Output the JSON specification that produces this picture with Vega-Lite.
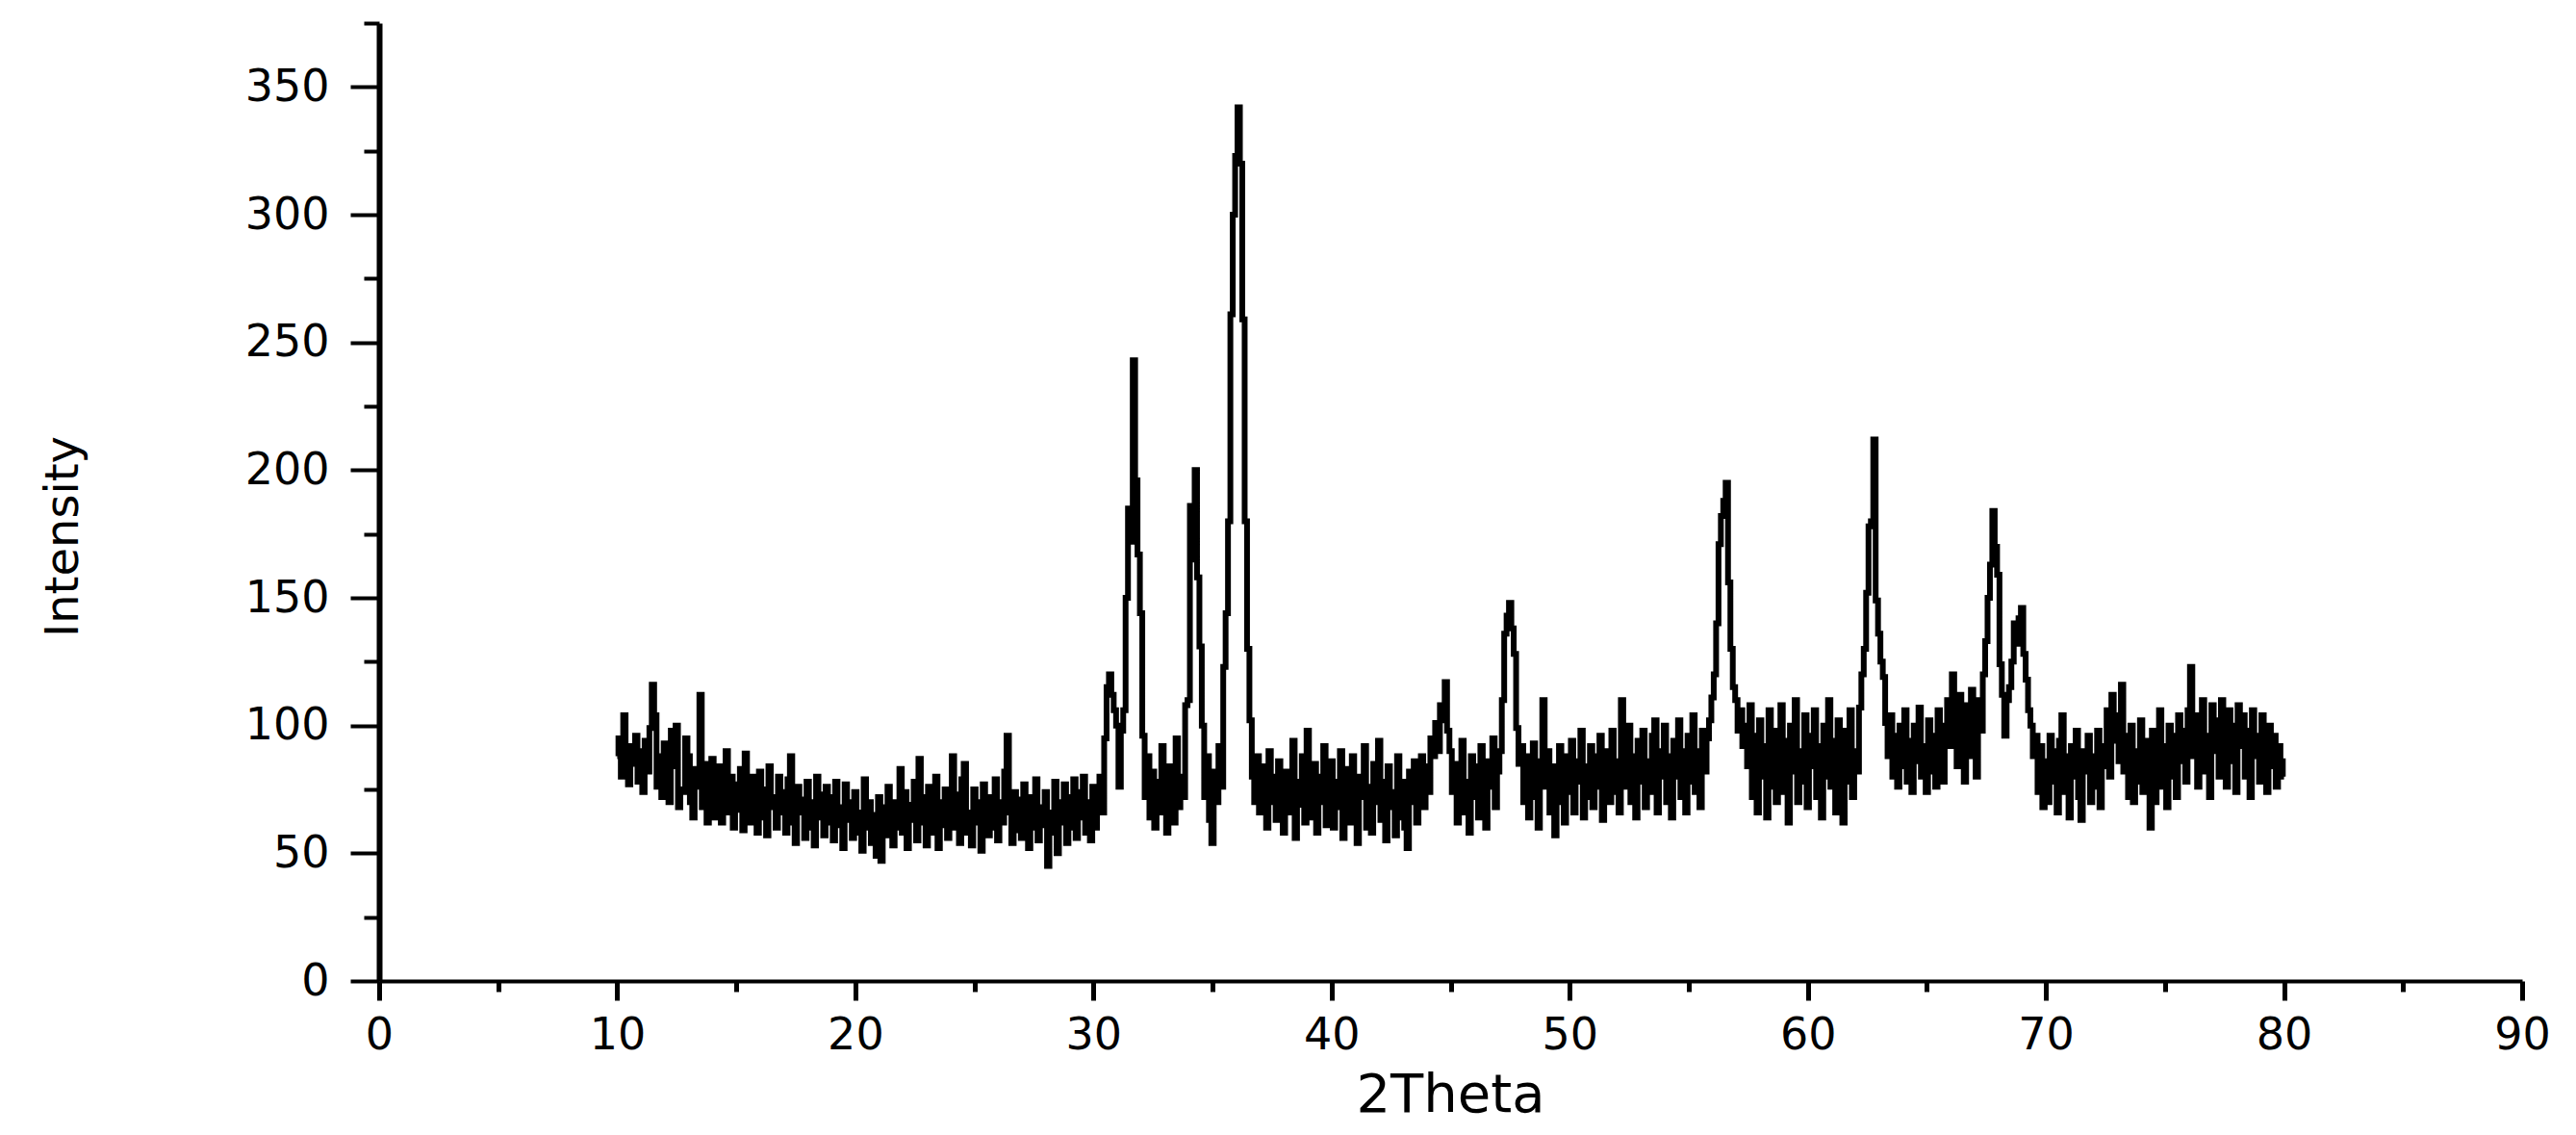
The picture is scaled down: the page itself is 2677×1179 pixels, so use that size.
{
"$schema": "https://vega.github.io/schema/vega-lite/v6.json",
"width": 2227,
"height": 995,
"autosize": {"type": "none"},
"padding": {"left": 394, "top": 24, "right": 56, "bottom": 160},
"background": "white",
"config": {"view": {"stroke": null}, "axis": {"grid": false}},
"data": {"values": [
{"theta":10.0,"i":88},{"theta":10.1,"i":95},{"theta":10.2,"i":80},{"theta":10.3,"i":104},{"theta":10.4,"i":84},{"theta":10.5,"i":77},{"theta":10.6,"i":92},{"theta":10.7,"i":85},{"theta":10.8,"i":96},{"theta":10.9,"i":78},
{"theta":11.0,"i":90},{"theta":11.1,"i":74},{"theta":11.2,"i":94},{"theta":11.3,"i":82},{"theta":11.4,"i":99},{"theta":11.5,"i":116},{"theta":11.6,"i":104},{"theta":11.7,"i":76},{"theta":11.8,"i":88},{"theta":11.9,"i":72},
{"theta":12.0,"i":93},{"theta":12.1,"i":79},{"theta":12.2,"i":70},{"theta":12.3,"i":98},{"theta":12.4,"i":84},{"theta":12.5,"i":100},{"theta":12.6,"i":68},{"theta":12.7,"i":75},{"theta":12.8,"i":74},{"theta":12.9,"i":95},
{"theta":13.0,"i":88},{"theta":13.1,"i":70},{"theta":13.2,"i":64},{"theta":13.3,"i":83},{"theta":13.4,"i":76},{"theta":13.5,"i":112},{"theta":13.6,"i":68},{"theta":13.7,"i":85},{"theta":13.8,"i":62},{"theta":13.9,"i":80},
{"theta":14.0,"i":87},{"theta":14.1,"i":64},{"theta":14.2,"i":78},{"theta":14.3,"i":84},{"theta":14.4,"i":62},{"theta":14.5,"i":73},{"theta":14.6,"i":90},{"theta":14.7,"i":66},{"theta":14.8,"i":80},{"theta":14.9,"i":60},
{"theta":15.0,"i":77},{"theta":15.1,"i":67},{"theta":15.2,"i":83},{"theta":15.3,"i":59},{"theta":15.4,"i":89},{"theta":15.5,"i":70},{"theta":15.6,"i":62},{"theta":15.7,"i":80},{"theta":15.8,"i":74},{"theta":15.9,"i":58},
{"theta":16.0,"i":82},{"theta":16.1,"i":64},{"theta":16.2,"i":75},{"theta":16.3,"i":57},{"theta":16.4,"i":84},{"theta":16.5,"i":68},{"theta":16.6,"i":72},{"theta":16.7,"i":60},{"theta":16.8,"i":80},{"theta":16.9,"i":66},
{"theta":17.0,"i":74},{"theta":17.1,"i":58},{"theta":17.2,"i":79},{"theta":17.3,"i":88},{"theta":17.4,"i":62},{"theta":17.5,"i":54},{"theta":17.6,"i":76},{"theta":17.7,"i":66},{"theta":17.8,"i":71},{"theta":17.9,"i":56},
{"theta":18.0,"i":78},{"theta":18.1,"i":60},{"theta":18.2,"i":70},{"theta":18.3,"i":53},{"theta":18.4,"i":80},{"theta":18.5,"i":64},{"theta":18.6,"i":73},{"theta":18.7,"i":57},{"theta":18.8,"i":76},{"theta":18.9,"i":62},
{"theta":19.0,"i":72},{"theta":19.1,"i":55},{"theta":19.2,"i":78},{"theta":19.3,"i":61},{"theta":19.4,"i":68},{"theta":19.5,"i":52},{"theta":19.6,"i":77},{"theta":19.7,"i":63},{"theta":19.8,"i":70},{"theta":19.9,"i":56},
{"theta":20.0,"i":74},{"theta":20.1,"i":58},{"theta":20.2,"i":66},{"theta":20.3,"i":51},{"theta":20.4,"i":79},{"theta":20.5,"i":60},{"theta":20.6,"i":70},{"theta":20.7,"i":54},{"theta":20.8,"i":65},{"theta":20.9,"i":49},
{"theta":21.0,"i":72},{"theta":21.1,"i":47},{"theta":21.2,"i":68},{"theta":21.3,"i":57},{"theta":21.4,"i":76},{"theta":21.5,"i":61},{"theta":21.6,"i":53},{"theta":21.7,"i":70},{"theta":21.8,"i":60},{"theta":21.9,"i":83},
{"theta":22.0,"i":58},{"theta":22.1,"i":74},{"theta":22.2,"i":52},{"theta":22.3,"i":69},{"theta":22.4,"i":63},{"theta":22.5,"i":78},{"theta":22.6,"i":55},{"theta":22.7,"i":87},{"theta":22.8,"i":62},{"theta":22.9,"i":72},
{"theta":23.0,"i":53},{"theta":23.1,"i":76},{"theta":23.2,"i":64},{"theta":23.3,"i":58},{"theta":23.4,"i":80},{"theta":23.5,"i":52},{"theta":23.6,"i":70},{"theta":23.7,"i":61},{"theta":23.8,"i":75},{"theta":23.9,"i":56},
{"theta":24.0,"i":68},{"theta":24.1,"i":88},{"theta":24.2,"i":60},{"theta":24.3,"i":73},{"theta":24.4,"i":54},{"theta":24.5,"i":79},{"theta":24.6,"i":85},{"theta":24.7,"i":58},{"theta":24.8,"i":66},{"theta":24.9,"i":53},
{"theta":25.0,"i":75},{"theta":25.1,"i":62},{"theta":25.2,"i":70},{"theta":25.3,"i":51},{"theta":25.4,"i":77},{"theta":25.5,"i":64},{"theta":25.6,"i":57},{"theta":25.7,"i":72},{"theta":25.8,"i":60},{"theta":25.9,"i":79},
{"theta":26.0,"i":55},{"theta":26.1,"i":70},{"theta":26.2,"i":62},{"theta":26.3,"i":82},{"theta":26.4,"i":96},{"theta":26.5,"i":66},{"theta":26.6,"i":54},{"theta":26.7,"i":74},{"theta":26.8,"i":59},{"theta":26.9,"i":71},
{"theta":27.0,"i":56},{"theta":27.1,"i":77},{"theta":27.2,"i":63},{"theta":27.3,"i":52},{"theta":27.4,"i":72},{"theta":27.5,"i":60},{"theta":27.6,"i":79},{"theta":27.7,"i":55},{"theta":27.8,"i":68},{"theta":27.9,"i":61},
{"theta":28.0,"i":74},{"theta":28.1,"i":45},{"theta":28.2,"i":66},{"theta":28.3,"i":58},{"theta":28.4,"i":78},{"theta":28.5,"i":50},{"theta":28.6,"i":70},{"theta":28.7,"i":62},{"theta":28.8,"i":77},{"theta":28.9,"i":54},
{"theta":29.0,"i":72},{"theta":29.1,"i":60},{"theta":29.2,"i":79},{"theta":29.3,"i":56},{"theta":29.4,"i":74},{"theta":29.5,"i":64},{"theta":29.6,"i":80},{"theta":29.7,"i":58},{"theta":29.8,"i":70},{"theta":29.9,"i":55},
{"theta":30.0,"i":76},{"theta":30.1,"i":60},{"theta":30.2,"i":72},{"theta":30.3,"i":80},{"theta":30.4,"i":66},{"theta":30.5,"i":95},{"theta":30.6,"i":115},{"theta":30.7,"i":120},{"theta":30.8,"i":112},{"theta":30.9,"i":106},
{"theta":31.0,"i":100},{"theta":31.1,"i":76},{"theta":31.2,"i":98},{"theta":31.3,"i":106},{"theta":31.4,"i":150},{"theta":31.5,"i":185},{"theta":31.6,"i":172},{"theta":31.7,"i":243},{"theta":31.8,"i":196},{"theta":31.9,"i":167},
{"theta":32.0,"i":144},{"theta":32.1,"i":96},{"theta":32.2,"i":72},{"theta":32.3,"i":88},{"theta":32.4,"i":64},{"theta":32.5,"i":82},{"theta":32.6,"i":60},{"theta":32.7,"i":78},{"theta":32.8,"i":66},{"theta":32.9,"i":92},
{"theta":33.0,"i":70},{"theta":33.1,"i":58},{"theta":33.2,"i":84},{"theta":33.3,"i":75},{"theta":33.4,"i":62},{"theta":33.5,"i":95},{"theta":33.6,"i":68},{"theta":33.7,"i":80},{"theta":33.8,"i":72},{"theta":33.9,"i":108},
{"theta":34.0,"i":110},{"theta":34.1,"i":186},{"theta":34.2,"i":165},{"theta":34.3,"i":200},{"theta":34.4,"i":158},{"theta":34.5,"i":131},{"theta":34.6,"i":100},{"theta":34.7,"i":72},{"theta":34.8,"i":88},{"theta":34.9,"i":63},
{"theta":35.0,"i":54},{"theta":35.1,"i":82},{"theta":35.2,"i":70},{"theta":35.3,"i":92},{"theta":35.4,"i":76},{"theta":35.5,"i":123},{"theta":35.6,"i":144},{"theta":35.7,"i":180},{"theta":35.8,"i":261},{"theta":35.9,"i":300},
{"theta":36.0,"i":323},{"theta":36.1,"i":342},{"theta":36.2,"i":320},{"theta":36.3,"i":259},{"theta":36.4,"i":180},{"theta":36.5,"i":130},{"theta":36.6,"i":102},{"theta":36.7,"i":80},{"theta":36.8,"i":70},{"theta":36.9,"i":88},
{"theta":37.0,"i":66},{"theta":37.1,"i":84},{"theta":37.2,"i":74},{"theta":37.3,"i":60},{"theta":37.4,"i":90},{"theta":37.5,"i":70},{"theta":37.6,"i":80},{"theta":37.7,"i":63},{"theta":37.8,"i":86},{"theta":37.9,"i":72},
{"theta":38.0,"i":58},{"theta":38.1,"i":82},{"theta":38.2,"i":75},{"theta":38.3,"i":66},{"theta":38.4,"i":94},{"theta":38.5,"i":56},{"theta":38.6,"i":78},{"theta":38.7,"i":69},{"theta":38.8,"i":88},{"theta":38.9,"i":62},
{"theta":39.0,"i":98},{"theta":39.1,"i":72},{"theta":39.2,"i":64},{"theta":39.3,"i":85},{"theta":39.4,"i":58},{"theta":39.5,"i":80},{"theta":39.6,"i":70},{"theta":39.7,"i":92},{"theta":39.8,"i":61},{"theta":39.9,"i":76},
{"theta":40.0,"i":86},{"theta":40.1,"i":60},{"theta":40.2,"i":78},{"theta":40.3,"i":68},{"theta":40.4,"i":90},{"theta":40.5,"i":56},{"theta":40.6,"i":74},{"theta":40.7,"i":83},{"theta":40.8,"i":62},{"theta":40.9,"i":88},
{"theta":41.0,"i":66},{"theta":41.1,"i":54},{"theta":41.2,"i":80},{"theta":41.3,"i":72},{"theta":41.4,"i":92},{"theta":41.5,"i":60},{"theta":41.6,"i":76},{"theta":41.7,"i":58},{"theta":41.8,"i":85},{"theta":41.9,"i":70},
{"theta":42.0,"i":94},{"theta":42.1,"i":63},{"theta":42.2,"i":78},{"theta":42.3,"i":55},{"theta":42.4,"i":84},{"theta":42.5,"i":68},{"theta":42.6,"i":74},{"theta":42.7,"i":57},{"theta":42.8,"i":88},{"theta":42.9,"i":64},
{"theta":43.0,"i":78},{"theta":43.1,"i":60},{"theta":43.2,"i":52},{"theta":43.3,"i":82},{"theta":43.4,"i":70},{"theta":43.5,"i":86},{"theta":43.6,"i":62},{"theta":43.7,"i":76},{"theta":43.8,"i":88},{"theta":43.9,"i":68},
{"theta":44.0,"i":84},{"theta":44.1,"i":74},{"theta":44.2,"i":95},{"theta":44.3,"i":88},{"theta":44.4,"i":101},{"theta":44.5,"i":90},{"theta":44.6,"i":108},{"theta":44.7,"i":102},{"theta":44.8,"i":117},{"theta":44.9,"i":98},
{"theta":45.0,"i":90},{"theta":45.1,"i":74},{"theta":45.2,"i":85},{"theta":45.3,"i":62},{"theta":45.4,"i":80},{"theta":45.5,"i":94},{"theta":45.6,"i":66},{"theta":45.7,"i":78},{"theta":45.8,"i":58},{"theta":45.9,"i":88},
{"theta":46.0,"i":72},{"theta":46.1,"i":84},{"theta":46.2,"i":64},{"theta":46.3,"i":92},{"theta":46.4,"i":70},{"theta":46.5,"i":60},{"theta":46.6,"i":86},{"theta":46.7,"i":76},{"theta":46.8,"i":95},{"theta":46.9,"i":68},
{"theta":47.0,"i":82},{"theta":47.1,"i":90},{"theta":47.2,"i":110},{"theta":47.3,"i":136},{"theta":47.4,"i":143},{"theta":47.5,"i":148},{"theta":47.6,"i":138},{"theta":47.7,"i":128},{"theta":47.8,"i":99},{"theta":47.9,"i":85},
{"theta":48.0,"i":92},{"theta":48.1,"i":70},{"theta":48.2,"i":88},{"theta":48.3,"i":64},{"theta":48.4,"i":82},{"theta":48.5,"i":93},{"theta":48.6,"i":72},{"theta":48.7,"i":60},{"theta":48.8,"i":86},{"theta":48.9,"i":110},
{"theta":49.0,"i":76},{"theta":49.1,"i":90},{"theta":49.2,"i":66},{"theta":49.3,"i":84},{"theta":49.4,"i":57},{"theta":49.5,"i":80},{"theta":49.6,"i":92},{"theta":49.7,"i":70},{"theta":49.8,"i":62},{"theta":49.9,"i":88},
{"theta":50.0,"i":74},{"theta":50.1,"i":94},{"theta":50.2,"i":66},{"theta":50.3,"i":86},{"theta":50.4,"i":78},{"theta":50.5,"i":98},{"theta":50.6,"i":64},{"theta":50.7,"i":84},{"theta":50.8,"i":72},{"theta":50.9,"i":92},
{"theta":51.0,"i":68},{"theta":51.1,"i":88},{"theta":51.2,"i":76},{"theta":51.3,"i":96},{"theta":51.4,"i":63},{"theta":51.5,"i":82},{"theta":51.6,"i":90},{"theta":51.7,"i":70},{"theta":51.8,"i":98},{"theta":51.9,"i":74},
{"theta":52.0,"i":86},{"theta":52.1,"i":66},{"theta":52.2,"i":110},{"theta":52.3,"i":92},{"theta":52.4,"i":76},{"theta":52.5,"i":100},{"theta":52.6,"i":70},{"theta":52.7,"i":88},{"theta":52.8,"i":64},{"theta":52.9,"i":94},
{"theta":53.0,"i":78},{"theta":53.1,"i":98},{"theta":53.2,"i":68},{"theta":53.3,"i":86},{"theta":53.4,"i":74},{"theta":53.5,"i":96},{"theta":53.6,"i":102},{"theta":53.7,"i":66},{"theta":53.8,"i":90},{"theta":53.9,"i":80},
{"theta":54.0,"i":100},{"theta":54.1,"i":70},{"theta":54.2,"i":88},{"theta":54.3,"i":64},{"theta":54.4,"i":94},{"theta":54.5,"i":80},{"theta":54.6,"i":102},{"theta":54.7,"i":72},{"theta":54.8,"i":90},{"theta":54.9,"i":66},
{"theta":55.0,"i":96},{"theta":55.1,"i":78},{"theta":55.2,"i":104},{"theta":55.3,"i":74},{"theta":55.4,"i":90},{"theta":55.5,"i":68},{"theta":55.6,"i":98},{"theta":55.7,"i":82},{"theta":55.8,"i":95},{"theta":55.9,"i":102},
{"theta":56.0,"i":111},{"theta":56.1,"i":120},{"theta":56.2,"i":140},{"theta":56.3,"i":171},{"theta":56.4,"i":182},{"theta":56.5,"i":188},{"theta":56.6,"i":195},{"theta":56.7,"i":156},{"theta":56.8,"i":130},{"theta":56.9,"i":115},
{"theta":57.0,"i":110},{"theta":57.1,"i":98},{"theta":57.2,"i":106},{"theta":57.3,"i":92},{"theta":57.4,"i":100},{"theta":57.5,"i":84},{"theta":57.6,"i":108},{"theta":57.7,"i":72},{"theta":57.8,"i":96},{"theta":57.9,"i":66},
{"theta":58.0,"i":102},{"theta":58.1,"i":80},{"theta":58.2,"i":92},{"theta":58.3,"i":64},{"theta":58.4,"i":106},{"theta":58.5,"i":76},{"theta":58.6,"i":98},{"theta":58.7,"i":70},{"theta":58.8,"i":88},{"theta":58.9,"i":108},
{"theta":59.0,"i":74},{"theta":59.1,"i":94},{"theta":59.2,"i":62},{"theta":59.3,"i":100},{"theta":59.4,"i":82},{"theta":59.5,"i":110},{"theta":59.6,"i":70},{"theta":59.7,"i":90},{"theta":59.8,"i":78},{"theta":59.9,"i":104},
{"theta":60.0,"i":68},{"theta":60.1,"i":96},{"theta":60.2,"i":84},{"theta":60.3,"i":106},{"theta":60.4,"i":72},{"theta":60.5,"i":92},{"theta":60.6,"i":64},{"theta":60.7,"i":100},{"theta":60.8,"i":80},{"theta":60.9,"i":110},
{"theta":61.0,"i":76},{"theta":61.1,"i":94},{"theta":61.2,"i":66},{"theta":61.3,"i":102},{"theta":61.4,"i":84},{"theta":61.5,"i":62},{"theta":61.6,"i":98},{"theta":61.7,"i":78},{"theta":61.8,"i":106},{"theta":61.9,"i":72},
{"theta":62.0,"i":90},{"theta":62.1,"i":82},{"theta":62.2,"i":107},{"theta":62.3,"i":120},{"theta":62.4,"i":130},{"theta":62.5,"i":152},{"theta":62.6,"i":178},{"theta":62.7,"i":180},{"theta":62.8,"i":212},{"theta":62.9,"i":149},
{"theta":63.0,"i":136},{"theta":63.1,"i":125},{"theta":63.2,"i":119},{"theta":63.3,"i":101},{"theta":63.4,"i":88},{"theta":63.5,"i":104},{"theta":63.6,"i":80},{"theta":63.7,"i":96},{"theta":63.8,"i":76},{"theta":63.9,"i":100},
{"theta":64.0,"i":84},{"theta":64.1,"i":106},{"theta":64.2,"i":78},{"theta":64.3,"i":94},{"theta":64.4,"i":74},{"theta":64.5,"i":100},{"theta":64.6,"i":86},{"theta":64.7,"i":107},{"theta":64.8,"i":80},{"theta":64.9,"i":92},
{"theta":65.0,"i":74},{"theta":65.1,"i":102},{"theta":65.2,"i":82},{"theta":65.3,"i":96},{"theta":65.4,"i":76},{"theta":65.5,"i":106},{"theta":65.6,"i":88},{"theta":65.7,"i":78},{"theta":65.8,"i":100},{"theta":65.9,"i":110},
{"theta":66.0,"i":92},{"theta":66.1,"i":120},{"theta":66.2,"i":104},{"theta":66.3,"i":84},{"theta":66.4,"i":112},{"theta":66.5,"i":96},{"theta":66.6,"i":78},{"theta":66.7,"i":108},{"theta":66.8,"i":88},{"theta":66.9,"i":114},
{"theta":67.0,"i":94},{"theta":67.1,"i":80},{"theta":67.2,"i":110},{"theta":67.3,"i":98},{"theta":67.4,"i":120},{"theta":67.5,"i":133},{"theta":67.6,"i":150},{"theta":67.7,"i":163},{"theta":67.8,"i":184},{"theta":67.9,"i":170},
{"theta":68.0,"i":159},{"theta":68.1,"i":124},{"theta":68.2,"i":112},{"theta":68.3,"i":96},{"theta":68.4,"i":110},{"theta":68.5,"i":115},{"theta":68.6,"i":125},{"theta":68.7,"i":140},{"theta":68.8,"i":132},{"theta":68.9,"i":142},
{"theta":69.0,"i":146},{"theta":69.1,"i":128},{"theta":69.2,"i":118},{"theta":69.3,"i":106},{"theta":69.4,"i":100},{"theta":69.5,"i":88},{"theta":69.6,"i":96},{"theta":69.7,"i":74},{"theta":69.8,"i":92},{"theta":69.9,"i":68},
{"theta":70.0,"i":86},{"theta":70.1,"i":70},{"theta":70.2,"i":96},{"theta":70.3,"i":78},{"theta":70.4,"i":90},{"theta":70.5,"i":66},{"theta":70.6,"i":94},{"theta":70.7,"i":104},{"theta":70.8,"i":74},{"theta":70.9,"i":88},
{"theta":71.0,"i":64},{"theta":71.1,"i":92},{"theta":71.2,"i":80},{"theta":71.3,"i":98},{"theta":71.4,"i":72},{"theta":71.5,"i":63},{"theta":71.6,"i":90},{"theta":71.7,"i":82},{"theta":71.8,"i":96},{"theta":71.9,"i":70},
{"theta":72.0,"i":88},{"theta":72.1,"i":76},{"theta":72.2,"i":98},{"theta":72.3,"i":68},{"theta":72.4,"i":92},{"theta":72.5,"i":84},{"theta":72.6,"i":106},{"theta":72.7,"i":80},{"theta":72.8,"i":112},{"theta":72.9,"i":94},
{"theta":73.0,"i":104},{"theta":73.1,"i":86},{"theta":73.2,"i":116},{"theta":73.3,"i":82},{"theta":73.4,"i":96},{"theta":73.5,"i":72},{"theta":73.6,"i":100},{"theta":73.7,"i":70},{"theta":73.8,"i":90},{"theta":73.9,"i":78},
{"theta":74.0,"i":102},{"theta":74.1,"i":74},{"theta":74.2,"i":94},{"theta":74.3,"i":84},{"theta":74.4,"i":60},{"theta":74.5,"i":98},{"theta":74.6,"i":70},{"theta":74.7,"i":88},{"theta":74.8,"i":106},{"theta":74.9,"i":76},
{"theta":75.0,"i":92},{"theta":75.1,"i":68},{"theta":75.2,"i":100},{"theta":75.3,"i":80},{"theta":75.4,"i":96},{"theta":75.5,"i":72},{"theta":75.6,"i":104},{"theta":75.7,"i":86},{"theta":75.8,"i":98},{"theta":75.9,"i":78},
{"theta":76.0,"i":106},{"theta":76.1,"i":123},{"theta":76.2,"i":88},{"theta":76.3,"i":104},{"theta":76.4,"i":76},{"theta":76.5,"i":100},{"theta":76.6,"i":110},{"theta":76.7,"i":82},{"theta":76.8,"i":96},{"theta":76.9,"i":72},
{"theta":77.0,"i":108},{"theta":77.1,"i":90},{"theta":77.2,"i":102},{"theta":77.3,"i":80},{"theta":77.4,"i":110},{"theta":77.5,"i":94},{"theta":77.6,"i":76},{"theta":77.7,"i":106},{"theta":77.8,"i":86},{"theta":77.9,"i":100},
{"theta":78.0,"i":74},{"theta":78.1,"i":108},{"theta":78.2,"i":92},{"theta":78.3,"i":104},{"theta":78.4,"i":80},{"theta":78.5,"i":98},{"theta":78.6,"i":72},{"theta":78.7,"i":106},{"theta":78.8,"i":88},{"theta":78.9,"i":96},
{"theta":79.0,"i":78},{"theta":79.1,"i":104},{"theta":79.2,"i":90},{"theta":79.3,"i":74},{"theta":79.4,"i":100},{"theta":79.5,"i":84},{"theta":79.6,"i":96},{"theta":79.7,"i":76},{"theta":79.8,"i":92},{"theta":79.9,"i":86},
{"theta":80.0,"i":80}
]},
"layer": [
{
"mark": {"type": "line", "color": "#000000", "strokeWidth": 6, "interpolate": "step", "strokeJoin": "miter"},
"encoding": {
"x": {"field": "theta", "type": "quantitative", "scale": {"domain": [0, 90], "nice": false, "zero": false},
"axis": {"orient": "bottom", "values": [0,10,20,30,40,50,60,70,80,90], "format": "d", "title": "2Theta",
"domainColor": "#000", "domainWidth": 4, "tickColor": "#000", "tickWidth": 5, "tickSize": 20,
"labelFont": "DejaVu Sans", "labelFontSize": 46, "labelColor": "#000", "labelPadding": 14, "labelFlush": false,
"titleFont": "DejaVu Sans", "titleFontSize": 56, "titleFontWeight": "normal", "titleColor": "#000",
"titleX": 1113, "titleY": 118, "titleAlign": "center", "titleBaseline": "middle"}},
"y": {"field": "i", "type": "quantitative", "scale": {"domain": [0, 375], "nice": false, "zero": true},
"axis": {"orient": "left", "values": [0,50,100,150,200,250,300,350], "format": "d", "title": "Intensity",
"domainColor": "#000", "domainWidth": 6, "tickColor": "#000", "tickWidth": 4, "tickSize": 30,
"labelFont": "DejaVu Sans", "labelFontSize": 46, "labelColor": "#000", "labelPadding": 22, "labelFlush": false,
"titleFont": "DejaVu Sans", "titleFontSize": 48, "titleFontWeight": "normal", "titleColor": "#000",
"titleAngle": -90, "titleX": -328, "titleY": 533, "titleAlign": "center", "titleBaseline": "middle"}}
}
},
{
"mark": {"type": "line", "opacity": 0},
"encoding": {
"x": {"field": "theta", "type": "quantitative",
"axis": {"orient": "bottom", "values": [5,15,25,35,45,55,65,75,85], "labels": false, "domain": false, "title": null,
"tickColor": "#000", "tickWidth": 5, "tickSize": 11}},
"y": {"field": "i", "type": "quantitative",
"axis": {"orient": "left", "values": [25,75,125,175,225,275,325,375], "labels": false, "domain": false, "title": null,
"tickColor": "#000", "tickWidth": 4, "tickSize": 16}}
}
}
],
"resolve": {"axis": {"x": "independent", "y": "independent"}}
}
